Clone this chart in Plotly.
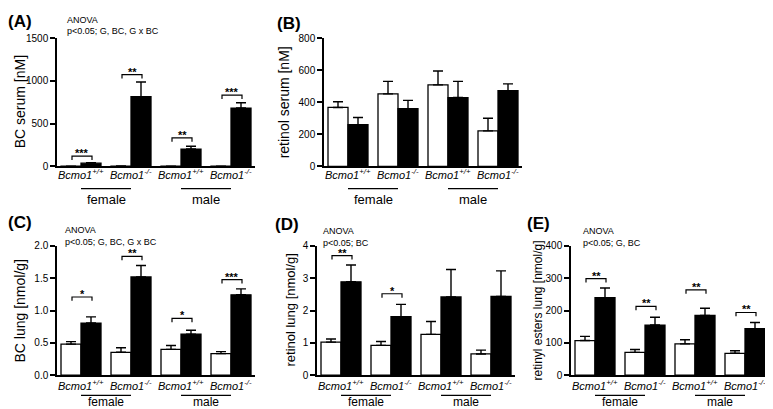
import plotly.graph_objects as go

W, H = 773, 409

# ---------------- data ----------------
genotypes = ["+/+", "-/-", "+/+", "-/-"]
sexes = ["female", "male"]

# (A) BC serum [nM]
a_white = [2, 4, 2, 2]
a_white_err = [0, 0, 0, 0]
a_black = [38, 816, 203, 683]
a_black_err = [6, 172, 33, 62]
a_stars = ["***", "**", "**", "***"]
a_bracket = [121, 1075, 334, 835]

# (B) retinol serum [nM]
b_white = [368, 453, 509, 222]
b_white_err = [36, 78, 87, 79]
b_black = [261, 360, 430, 473]
b_black_err = [44, 52, 101, 42]
b_stars = ["", "", "", ""]
b_bracket = [None, None, None, None]

# (C) BC lung [nmol/g]
c_white = [0.479, 0.353, 0.398, 0.332]
c_white_err = [0.04, 0.07, 0.06, 0.031]
c_black = [0.806, 1.521, 0.635, 1.244]
c_black_err = [0.096, 0.177, 0.06, 0.091]
c_stars = ["*", "**", "*", "***"]
c_bracket = [1.21, 1.84, 0.88, 1.48]

# (D) retinol lung [nmol/g]
d_white = [1.02, 0.92, 1.26, 0.655]
d_white_err = [0.10, 0.12, 0.40, 0.12]
d_black = [2.89, 1.81, 2.42, 2.44]
d_black_err = [0.52, 0.38, 0.85, 0.79]
d_stars = ["**", "*", "", ""]
d_bracket = [3.70, 2.52, None, None]

# (E) retinyl esters lung [nmol/g]
e_white = [107, 70.5, 96.7, 67.5]
e_white_err = [13, 9, 13, 8]
e_black = [240, 155, 185, 144]
e_black_err = [30, 24, 22, 19]
e_stars = ["**", "**", "**", "**"]
e_bracket = [299, 213, 264, 194]

TOP_ROW = dict(top=25, bottom=157, lab=8, line=23, sex=34, sexsize=13)
BOT_ROW = dict(top=239, bottom=372, lab=10, line=21, sex=27.5, sexsize=12)

panels = [
    dict(letter="(A)", title="BC serum [nM]", ymax=1500, dtick=500, fmt="d",
         white=a_white, white_err=a_white_err, black=a_black, black_err=a_black_err,
         stars=a_stars, bracket=a_bracket,
         anova=["ANOVA", "p&lt;0.05; G, BC, G x BC"],
         left=49, row=TOP_ROW, tsize=14, tx=12, lx=12, ly=8, ax=57, ay=6),
    dict(letter="(B)", title="retinol serum [nM]", ymax=800, dtick=200, fmt="d",
         white=b_white, white_err=b_white_err, black=b_black, black_err=b_black_err,
         stars=b_stars, bracket=b_bracket, anova=None,
         left=316, row=TOP_ROW, tsize=14, tx=276, lx=281, ly=10, ax=0, ay=0),
    dict(letter="(C)", title="BC lung [nmol/g]", ymax=2.0, dtick=0.5, fmt=".1f",
         white=c_white, white_err=c_white_err, black=c_black, black_err=c_black_err,
         stars=c_stars, bracket=c_bracket,
         anova=["ANOVA", "p&lt;0.05; G, BC, G x BC"],
         left=49, row=BOT_ROW, tsize=14, tx=12, lx=12, ly=215, ax=55, ay=223),
    dict(letter="(D)", title="retinol lung [nmol/g]", ymax=4, dtick=1, fmt="d",
         white=d_white, white_err=d_white_err, black=d_black, black_err=d_black_err,
         stars=d_stars, bracket=d_bracket,
         anova=["ANOVA", "p&lt;0.05; BC"],
         left=309, row=BOT_ROW, tsize=13, tx=283, lx=279, ly=217, ax=313, ay=224),
    dict(letter="(E)", title="retinyl esters lung [nmol/g]", ymax=400, dtick=100, fmt="d",
         white=e_white, white_err=e_white_err, black=e_black, black_err=e_black_err,
         stars=e_stars, bracket=e_bracket,
         anova=["ANOVA", "p&lt;0.05; G, BC"],
         left=563, row=BOT_ROW, tsize=12, tx=530, lx=530, ly=216, ax=573, ay=224),
]

FONT = "Arial, Liberation Sans, sans-serif"
BAR_PX = 20           # pixel width of one bar unit
XMIN, XMAX = -0.2, 9.7


def pxx(x):
    return x / W


def pxy(y):
    return 1 - y / H


fig = go.Figure()
annotations = []
shapes = []
layout = {}

for i, p in enumerate(panels):
    n = i + 1
    xa = "x" if n == 1 else f"x{n}"
    ya = "y" if n == 1 else f"y{n}"
    xkey = "xaxis" if n == 1 else f"xaxis{n}"
    ykey = "yaxis" if n == 1 else f"yaxis{n}"
    row = p["row"]
    top, bottom = row["top"], row["bottom"]

    left = p["left"]
    right = left + (XMAX - XMIN) * BAR_PX
    layout[xkey] = dict(domain=[pxx(left), pxx(right)], range=[XMIN, XMAX], anchor=ya,
                        showline=True, linecolor="black", linewidth=1.5,
                        showticklabels=False, ticks="", showgrid=False, zeroline=False)
    layout[ykey] = dict(domain=[pxy(bottom), pxy(top)], range=[0, p["ymax"]],
                        anchor=xa, showline=True, linecolor="black", linewidth=1.5,
                        ticks="outside", ticklen=5, tickwidth=1.5, tickcolor="black",
                        dtick=p["dtick"], tick0=0, tickformat=p["fmt"],
                        tickfont=dict(family=FONT, size=10, color="black"),
                        showgrid=False, zeroline=False)

    ng = len(genotypes)
    xw = [2.5 * g + 0.5 for g in range(ng)]
    xb = [2.5 * g + 1.5 for g in range(ng)]

    fig.add_trace(go.Bar(x=xw, y=p["white"], width=1, xaxis=xa, yaxis=ya, showlegend=False,
                         marker=dict(color="white", line=dict(color="black", width=1.3)),
                         error_y=dict(type="data", symmetric=False, array=p["white_err"],
                                      arrayminus=[0] * ng, color="black", thickness=1.4, width=5)))
    fig.add_trace(go.Bar(x=xb, y=p["black"], width=1, xaxis=xa, yaxis=ya, showlegend=False,
                         marker=dict(color="black", line=dict(color="black", width=1.3)),
                         error_y=dict(type="data", symmetric=False, array=p["black_err"],
                                      arrayminus=[0] * ng, color="black", thickness=1.4, width=5)))

    # significance brackets
    drop = 0.03 * p["ymax"]
    for g in range(ng):
        lvl = p["bracket"][g]
        if lvl is None:
            continue
        x0, x1 = xw[g] + 0.05, xb[g] + 0.05
        shapes.append(dict(type="path", xref=xa, yref=ya,
                           path=f"M {x0},{lvl - drop} L {x0},{lvl} L {x1},{lvl} L {x1},{lvl - drop}",
                           line=dict(color="black", width=1.2)))
        annotations.append(dict(x=(x0 + x1) / 2, y=lvl, xref=xa, yref=ya, text=f"<b>{p['stars'][g]}</b>",
                                showarrow=False, yanchor="bottom", yshift=-5,
                                font=dict(family=FONT, size=11, color="black")))

    # genotype labels
    label_y = bottom + row["lab"]
    for g in range(ng):
        annotations.append(dict(x=(xw[g] + xb[g]) / 2, y=pxy(label_y), xref=xa, yref="paper",
                                text=f"<i>Bcmo1</i><sup><i>{genotypes[g]}</i></sup>",
                                showarrow=False, yanchor="middle",
                                font=dict(family=FONT, size=11, color="black")))
    # sex lines and labels
    line_y = bottom + row["line"]
    for s, sex in enumerate(sexes):
        gx0 = (xw[2 * s] + xb[2 * s]) / 2
        gx1 = (xw[2 * s + 1] + xb[2 * s + 1]) / 2
        shapes.append(dict(type="line", xref=xa, yref="paper", x0=gx0, x1=gx1,
                           y0=pxy(line_y), y1=pxy(line_y), line=dict(color="black", width=1.2)))
        annotations.append(dict(x=(gx0 + gx1) / 2, y=pxy(bottom + row["sex"]), xref=xa, yref="paper",
                                text=sex, showarrow=False, yanchor="middle",
                                font=dict(family=FONT, size=row["sexsize"], color="black")))

    # y title
    annotations.append(dict(x=pxx(p["tx"]), y=pxy((top + bottom) / 2), xref="paper",
                            yref="paper", text=p["title"], textangle=-90, showarrow=False,
                            xanchor="center", yanchor="middle",
                            font=dict(family=FONT, size=p["tsize"], color="black")))
    # panel letter
    annotations.append(dict(x=pxx(p["lx"]), y=pxy(p["ly"]), xref="paper", yref="paper",
                            text=f"<b>{p['letter']}</b>", showarrow=False,
                            xanchor="center", yanchor="middle",
                            font=dict(family=FONT, size=17, color="black")))
    # ANOVA text
    if p["anova"]:
        for k, line in enumerate(p["anova"]):
            annotations.append(dict(x=pxx(p["ax"]), y=pxy(p["ay"] + 11.5 * k), xref="paper",
                                    yref="paper", text=line, showarrow=False,
                                    xanchor="left", yanchor="middle",
                                    font=dict(family=FONT, size=9, color="black")))

fig.update_layout(width=W, height=H, margin=dict(l=0, r=0, t=0, b=0),
                  paper_bgcolor="white", plot_bgcolor="white",
                  barmode="overlay", annotations=annotations, shapes=shapes, **layout)

fig.write_html("out.html")
